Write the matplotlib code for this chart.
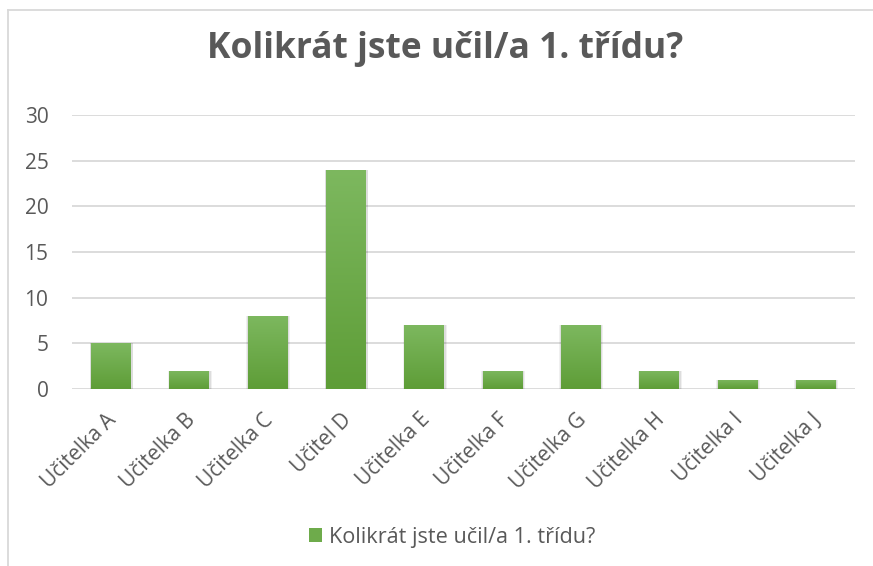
import matplotlib
matplotlib.use("Agg")
import matplotlib.pyplot as plt
import matplotlib.transforms as mtransforms
import numpy as np
from matplotlib.lines import Line2D
from matplotlib.patches import Patch

plt.rcParams['font.family'] = ['Open Sans', 'DejaVu Sans']

categories = ["Učitelka A", "Učitelka B", "Učitelka C", "Učitel D", "Učitelka E",
              "Učitelka F", "Učitelka G", "Učitelka H", "Učitelka I", "Učitelka J"]
values = [5, 2, 8, 24, 7, 2, 7, 2, 1, 1]
series_name = "Kolikrát jste učil/a 1. třídu?"
title = "Kolikrát jste učil/a 1. třídu?"
yticks = [0, 5, 10, 15, 20, 25, 30]

text_color = "#595959"
grid_color = "#d9d9d9"
top_col = np.array([0x7d, 0xb8, 0x5f]) / 255
bot_col = np.array([0x5e, 0x9d, 0x37]) / 255

fig = plt.figure(figsize=(8.73, 5.66), dpi=100)
ax = fig.add_axes([72/873, 1-389/566, (855-72)/873, (389-115)/566])

x = np.arange(len(categories))
bars = ax.bar(x, values, width=0.51, color=bot_col, zorder=3, linewidth=0)

# gradient fill per bar
grad = np.linspace(0, 1, 256)[:, None]
img = top_col[None, None, :] * (1 - grad[:, :, None]) + bot_col[None, None, :] * grad[:, :, None]
for b in bars:
    x0, y0 = b.get_x(), b.get_y()
    w, h = b.get_width(), b.get_height()
    # soft shadow
    for k, a in [(0.05, 0.06), (0.03, 0.08)]:
        ax.bar(x0 + w/2 + 0.005, h + 0.1, width=w + k, bottom=y0 - 0.1, color="#000000",
               alpha=a, zorder=2, linewidth=0)
    im = ax.imshow(img, extent=[x0, x0 + w, y0, y0 + h], aspect='auto', zorder=4,
                   interpolation='bilinear')
    im.set_clip_path(b)

ax.set_xlim(-0.5, len(categories) - 0.5)
ax.set_ylim(0, 30)
ax.set_yticks(yticks)
ax.set_yticklabels([str(v) for v in yticks], fontsize=15, color=text_color)
ax.set_xticks(x)
ax.set_xticklabels(categories, rotation=45, ha='right', rotation_mode='anchor',
                   fontsize=15, color=text_color)
ax.tick_params(axis='both', length=0)
ax.tick_params(axis='y', pad=17)
ax.tick_params(axis='x', pad=6)
offset = mtransforms.ScaledTranslation(-5/100, -12/100, fig.dpi_scale_trans)
for lab in ax.get_xticklabels():
    lab.set_transform(lab.get_transform() + offset)
ax.grid(axis='y', color=grid_color, linewidth=1.3, zorder=0)
for s in ax.spines.values():
    s.set_visible(False)

fig.text(445/873, 1-49/566, title, ha='center', va='center', fontsize=25.5,
         fontweight='bold', color=text_color)

handles = [Patch(facecolor=(top_col + bot_col) / 2, edgecolor='none')]
fig.legend(handles, [series_name], loc='center', bbox_to_anchor=(452/873, 1-537/566),
           frameon=False, fontsize=15.6, labelcolor=text_color, handlelength=0.6,
           handleheight=0.6, handletextpad=0.3)

# chart border (top and left visible)
fig.add_artist(Line2D([8/873, 1], [1-10/566, 1-10/566], transform=fig.transFigure,
                      color="#d9d9d9", linewidth=1.3))
fig.add_artist(Line2D([8/873, 8/873], [0, 1-10/566], transform=fig.transFigure,
                      color="#d9d9d9", linewidth=1.3))

fig.savefig("out.png", dpi=100)
